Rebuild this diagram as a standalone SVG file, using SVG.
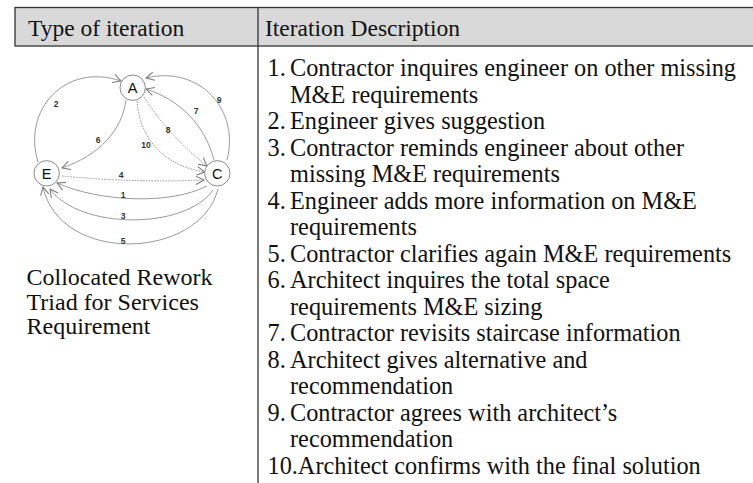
<svg xmlns="http://www.w3.org/2000/svg" width="753" height="483" viewBox="0 0 753 483">
<style>
.serif{font-family:"Liberation Serif","Times New Roman",serif;font-size:24.3px;fill:#111}
.cap{font-family:"Liberation Serif","Times New Roman",serif;font-size:24px;fill:#111}
.hdr{font-family:"Liberation Serif","Times New Roman",serif;font-size:23.5px;fill:#111}
.node circle{fill:#fff;stroke:#8a8a8a;stroke-width:1}
.node text{font-family:"Liberation Sans",Arial,sans-serif;font-size:14.5px;fill:#111;text-anchor:middle}
.edge{fill:none;stroke:#8f8f8f;stroke-width:0.9;marker-end:url(#arr)}
.dot{stroke-dasharray:1.6 1.2}
.lbl{font-family:"Liberation Sans",Arial,sans-serif;font-size:8.5px;font-weight:bold;fill:#333;text-anchor:middle}
</style>
<defs>
<marker id="arr" markerUnits="userSpaceOnUse" markerWidth="12" markerHeight="12" refX="0" refY="0" viewBox="-10 -6 12 12" orient="auto">
<path d="M-8,-4.2 L0,0 L-8,4.2" fill="none" stroke="#777" stroke-width="1"/>
</marker>
</defs>
<rect width="753" height="483" fill="#fff"/>
<g id="table">
<rect x="15" y="7.5" width="745" height="38.5" fill="#d9d9d9" stroke="#333" stroke-width="1.3"/>
<line x1="258" y1="7.5" x2="258" y2="483" stroke="#333" stroke-width="1.3"/>
<text class="hdr" x="28" y="36">Type of iteration</text>
<text class="hdr" x="265" y="36">Iteration Description</text>
</g>
<g id="connectors">
<path class="edge" d="M38,162 C22,110 65,62 121,81"/>
<path class="edge" d="M126,100 C122,130 100,155 62,168"/>
<path class="edge dot" d="M144,97 Q168,135 207,166"/>
<path class="edge dot" d="M137,101 C140,140 165,166 205,172"/>
<path class="edge" d="M214,160 C205,125 180,100 146,89"/>
<path class="edge" d="M227,160 C240,110 200,65 146,78"/>
<path class="edge dot" d="M62,176 Q135,183 204,180"/>
<path class="edge" d="M207,186 C170,205 100,202 57,183"/>
<path class="edge" d="M213,190 C185,230 80,230 50,189"/>
<path class="edge" d="M218,189 C200,260 60,265 43,187"/>
<text class="lbl" x="56" y="107">2</text>
<text class="lbl" x="98" y="143">6</text>
<text class="lbl" x="168" y="133">8</text>
<text class="lbl" x="146" y="148">10</text>
<text class="lbl" x="196" y="114">7</text>
<text class="lbl" x="219" y="103">9</text>
<text class="lbl" x="121" y="178">4</text>
<text class="lbl" x="123" y="198">1</text>
<text class="lbl" x="123" y="219">3</text>
<text class="lbl" x="123" y="244">5</text>
</g>
<g id="node-A" class="node"><circle cx="132.7" cy="87.7" r="12.7"/><text x="132.7" y="93">A</text></g>
<g id="node-E" class="node"><circle cx="46.7" cy="173.3" r="12.7"/><text x="46.7" y="178.6">E</text></g>
<g id="node-C" class="node"><circle cx="217.3" cy="173.3" r="12.7"/><text x="217.3" y="178.6">C</text></g>
<g id="caption" class="cap">
<text x="26.5" y="285">Collocated Rework</text>
<text x="26.5" y="309.5">Triad for Services</text>
<text x="26.5" y="334">Requirement</text>
</g>
<g id="list" class="serif">
<text x="267.5" y="76">1.</text><text x="290" y="76">Contractor inquires engineer on other missing</text>
<text x="290" y="102.5">M&amp;E requirements</text>
<text x="267.5" y="129">2.</text><text x="290" y="129">Engineer gives suggestion</text>
<text x="267.5" y="155.5">3.</text><text x="290" y="155.5">Contractor reminds engineer about other</text>
<text x="290" y="182">missing M&amp;E requirements</text>
<text x="267.5" y="208.5">4.</text><text x="290" y="208.5">Engineer adds more information on M&amp;E</text>
<text x="290" y="235">requirements</text>
<text x="267.5" y="261.5">5.</text><text x="290" y="261.5">Contractor clarifies again M&amp;E requirements</text>
<text x="267.5" y="288">6.</text><text x="290" y="288">Architect inquires the total space</text>
<text x="290" y="314.5">requirements M&amp;E sizing</text>
<text x="267.5" y="341">7.</text><text x="290" y="341">Contractor revisits staircase information</text>
<text x="267.5" y="367.5">8.</text><text x="290" y="367.5">Architect gives alternative and</text>
<text x="290" y="394">recommendation</text>
<text x="267.5" y="420.5">9.</text><text x="290" y="420.5">Contractor agrees with architect’s</text>
<text x="290" y="447">recommendation</text>
<text x="267.5" y="473.5">10.Architect confirms with the final solution</text>
</g>
</svg>
